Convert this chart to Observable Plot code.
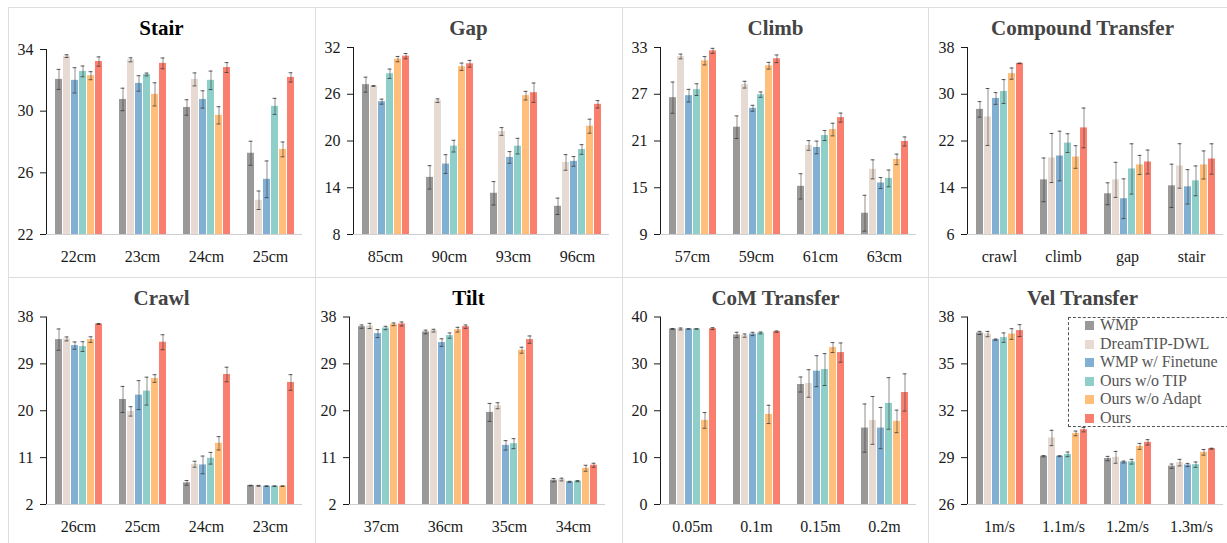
<!DOCTYPE html>
<html>
<head>
<meta charset="utf-8">
<script src="https://cdn.jsdelivr.net/npm/d3@7"></script>
<script src="https://cdn.jsdelivr.net/npm/@observablehq/plot@0.6"></script>
<style>
html, body { margin: 0; padding: 0; background: #fff; overflow: hidden; width: 1227px; height: 543px; }
#wrap { position: relative; width: 1227px; height: 543px; overflow: hidden; }
.cell { position: absolute; width: 307px; height: 270px; }
.cell svg { position: absolute; left: 0; top: 0; }
.title { position: absolute; left: 0; top: 0; width: 307px; height: 42px; text-align: center;
  font: bold 21px "Liberation Serif", "Times New Roman", serif; line-height: 42px; color: #444; white-space: nowrap; }
.vline { position: absolute; width: 1px; background: #dedede; }
.hline { position: absolute; height: 1px; background: #dedede; }
.legend { position: absolute; box-sizing: border-box; border: 1px dashed #555; background: transparent; }
.legend .row { position: absolute; left: 0; height: 18.5px; white-space: nowrap;
  font: 16px "Liberation Serif", "Times New Roman", serif; line-height: 18.5px; color: #555; }
.legend .sw { position: absolute; top: 5px; width: 9px; height: 9px; }
.legend .lab { position: absolute; left: 31px; top: 0; }
</style>
</head>
<body>
<div id="wrap"></div>
<script>
const methods = ["WMP", "DreamTIP-DWL", "WMP w/ Finetune", "Ours w/o TIP", "Ours w/o Adapt", "Ours"];
const colors = ["#999999", "#e7dad2", "#82b0d2", "#8ecfc9", "#ffbe7a", "#fa7f6f"];

// Stair
const stairConditions = ["22cm", "23cm", "24cm", "25cm"];
const stairTicks = [22, 26, 30, 34];
const stairMeans = [
  [32.06, 33.57, 32.0, 32.58, 32.3, 33.22],
  [30.76, 33.33, 31.8, 32.38, 31.09, 33.1],
  [30.24, 32.06, 30.76, 32.0, 29.73, 32.83],
  [27.27, 24.22, 25.58, 30.31, 27.52, 32.19]
];
const stairErrors = [
  [0.65, 0.09, 0.82, 0.35, 0.26, 0.3],
  [0.73, 0.13, 0.5, 0.09, 0.75, 0.35],
  [0.5, 0.42, 0.56, 0.6, 0.56, 0.32],
  [0.78, 0.6, 1.19, 0.52, 0.48, 0.3]
];

// Gap
const gapConditions = ["85cm", "90cm", "93cm", "96cm"];
const gapTicks = [8, 14, 20, 26, 32];
const gapMeans = [
  [27.23, 27.06, 25.05, 28.63, 30.51, 30.89],
  [15.33, 25.18, 17.04, 19.34, 29.53, 29.91],
  [13.29, 21.22, 17.89, 19.34, 25.82, 26.2],
  [11.62, 17.25, 17.38, 18.91, 21.9, 24.71]
];
const gapErrors = [
  [0.96, 0.05, 0.32, 0.6, 0.34, 0.34],
  [1.5, 0.23, 1.2, 0.75, 0.47, 0.43],
  [1.5, 0.5, 0.75, 1.0, 0.55, 1.24],
  [1.05, 1.0, 0.62, 0.62, 0.9, 0.47]
];

// Climb
const climbConditions = ["57cm", "59cm", "61cm", "63cm"];
const climbTicks = [9, 15, 21, 27, 33];
const climbMeans = [
  [26.56, 31.85, 26.82, 27.59, 31.3, 32.57],
  [22.77, 28.23, 25.2, 26.95, 30.66, 31.55],
  [15.18, 20.43, 20.17, 21.7, 22.47, 24.0],
  [11.73, 17.36, 15.61, 16.2, 18.64, 20.94]
];
const climbErrors = [
  [2.0, 0.3, 0.81, 0.75, 0.53, 0.32],
  [1.45, 0.43, 0.38, 0.34, 0.43, 0.49],
  [1.62, 0.62, 0.81, 0.64, 0.81, 0.58],
  [2.3, 1.22, 0.7, 1.07, 0.68, 0.58]
];

// Compound Transfer
const compoundConditions = ["crawl", "climb", "gap", "stair"];
const compoundTicks = [6, 14, 22, 30, 38];
const compoundMeans = [
  [27.41, 26.11, 29.28, 30.47, 33.53, 35.28],
  [15.35, 19.09, 19.43, 21.64, 19.26, 24.24],
  [12.97, 15.35, 12.12, 17.22, 17.9, 18.41],
  [14.33, 17.73, 14.16, 15.18, 17.9, 18.92]
];
const compoundErrors = [
  [1.33, 4.87, 1.0, 2.04, 0.96, 0.05],
  [3.74, 4.2, 4.25, 1.6, 1.93, 3.4],
  [1.87, 3.0, 3.4, 4.3, 1.64, 2.04],
  [3.7, 3.8, 2.94, 2.55, 2.4, 2.6]
];

// Crawl
const crawlConditions = ["26cm", "25cm", "24cm", "23cm"];
const crawlTicks = [2, 11, 20, 29, 38];
const crawlMeans = [
  [33.66, 33.79, 32.51, 32.32, 33.66, 36.66],
  [22.17, 19.88, 23.0, 23.77, 26.19, 33.15],
  [6.16, 9.73, 9.6, 10.88, 13.75, 26.96],
  [5.64, 5.58, 5.52, 5.52, 5.52, 25.43]
];
const crawlErrors = [
  [2.04, 0.38, 0.7, 0.93, 0.54, 0.1],
  [2.5, 0.9, 2.78, 2.68, 0.73, 1.44],
  [0.45, 0.57, 1.7, 1.12, 1.28, 1.4],
  [0.05, 0.08, 0.05, 0.05, 0.05, 1.5]
];

// Tilt
const tiltConditions = ["37cm", "36cm", "35cm", "34cm"];
const tiltTicks = [2, 11, 20, 29, 38];
const tiltMeans = [
  [36.15, 36.28, 34.81, 35.89, 36.6, 36.66],
  [35.13, 35.38, 33.09, 34.43, 35.57, 36.15],
  [19.68, 20.96, 13.36, 13.68, 31.62, 33.66],
  [6.67, 6.79, 6.35, 6.48, 8.96, 9.54]
];
const tiltErrors = [
  [0.32, 0.5, 0.77, 0.32, 0.26, 0.38],
  [0.35, 0.26, 0.73, 0.51, 0.45, 0.32],
  [1.72, 0.57, 0.9, 0.96, 0.57, 0.7],
  [0.32, 0.26, 0.1, 0.1, 0.57, 0.38]
];

// CoM Transfer
const comConditions = ["0.05m", "0.1m", "0.15m", "0.2m"];
const comTicks = [0, 10, 20, 30, 40];
const comMeans = [
  [37.45, 37.45, 37.45, 37.45, 17.94, 37.52],
  [36.17, 36.03, 36.38, 36.6, 19.22, 36.88],
  [25.6, 25.82, 28.44, 28.79, 33.48, 32.41],
  [16.31, 17.94, 16.31, 21.56, 17.73, 23.9]
];
const comErrors = [
  [0.1, 0.2, 0.05, 0.05, 1.67, 0.2],
  [0.57, 0.35, 0.35, 0.2, 1.95, 0.14],
  [1.6, 2.94, 3.3, 3.4, 1.06, 2.05],
  [5.14, 5.1, 4.4, 5.5, 2.4, 3.97]
];

// Vel Transfer
const velConditions = ["1m/s", "1.1m/s", "1.2m/s", "1.3m/s"];
const velTicks = [26, 29, 32, 35, 38];
const velMeans = [
  [36.98, 36.91, 36.55, 36.68, 36.91, 37.13],
  [29.09, 30.26, 29.09, 29.21, 30.55, 30.79],
  [28.94, 29.02, 28.72, 28.74, 29.72, 29.98],
  [28.45, 28.68, 28.53, 28.55, 29.34, 29.57]
];
const velErrors = [
  [0.1, 0.17, 0.04, 0.3, 0.34, 0.38],
  [0.04, 0.49, 0.03, 0.15, 0.15, 0.14],
  [0.14, 0.38, 0.06, 0.15, 0.19, 0.17],
  [0.14, 0.21, 0.1, 0.17, 0.18, 0.03]
];

const panels = [
  {title: "Stair", conditions: stairConditions, ticks: stairTicks, means: stairMeans, errors: stairErrors, titleColor: "#000", ml: 37, mr: 12, mt: 42},
  {title: "Gap", conditions: gapConditions, ticks: gapTicks, means: gapMeans, errors: gapErrors, titleColor: "#444", ml: 37, mr: 12, mt: 40},
  {title: "Climb", conditions: climbConditions, ticks: climbTicks, means: climbMeans, errors: climbErrors, titleColor: "#444", ml: 37, mr: 12, mt: 40},
  {title: "Compound Transfer", conditions: compoundConditions, ticks: compoundTicks, means: compoundMeans, errors: compoundErrors, titleColor: "#444", ml: 37, mr: 13, mt: 40},
  {title: "Crawl", conditions: crawlConditions, ticks: crawlTicks, means: crawlMeans, errors: crawlErrors, titleColor: "#444", ml: 37, mr: 12, mt: 39.5},
  {title: "Tilt", conditions: tiltConditions, ticks: tiltTicks, means: tiltMeans, errors: tiltErrors, titleColor: "#000", ml: 34, mr: 17, mt: 39.5},
  {title: "CoM Transfer", conditions: comConditions, ticks: comTicks, means: comMeans, errors: comErrors, titleColor: "#444", ml: 37, mr: 13, mt: 39.5},
  {title: "Vel Transfer", conditions: velConditions, ticks: velTicks, means: velMeans, errors: velErrors, titleColor: "#444", ml: 37, mr: 12, mt: 39.5, legend: true}
];

const wrap = document.getElementById("wrap");

panels.forEach((p, k) => {
  const col = k % 4, row = Math.floor(k / 4);
  const cell = document.createElement("div");
  cell.className = "cell";
  cell.style.left = (8 + col * 307) + "px";
  cell.style.top = (7 + row * 270) + "px";
  wrap.appendChild(cell);

  const rows = [];
  p.conditions.forEach((c, i) => {
    methods.forEach((m, j) => {
      const v = p.means[i][j], e = p.errors[i][j];
      rows.push({cond: c, method: m, value: v, lo: v - e, hi: v + e});
    });
  });
  const base = p.ticks[0];
  const top = p.ticks[p.ticks.length - 1];

  const chart = Plot.plot({
    width: 307,
    height: 270,
    marginLeft: p.ml,
    marginRight: p.mr,
    marginTop: p.mt,
    marginBottom: 43,
    style: {fontFamily: '"Liberation Serif", "Times New Roman", serif', fontSize: "16px", color: "#1a1a1a", background: "transparent", overflow: "visible"},
    fx: {domain: p.conditions, padding: 0, axis: "bottom", label: null, tickSize: 0, tickPadding: 16},
    x: {domain: methods, axis: null, paddingInner: 0.15, paddingOuter: 0.97},
    y: {domain: [base, top], ticks: p.ticks, tickSize: 6, tickPadding: 7, label: null, line: true},
    color: {domain: methods, range: colors},
    marks: [
      Plot.barY(rows, {fx: "cond", x: "method", y1: base, y2: "value", fill: "method"}),
      Plot.ruleY([base], {stroke: "#cfcfcf"}),
      Plot.ruleX(rows, {fx: "cond", x: "method", y1: "lo", y2: "hi", stroke: "#333", strokeOpacity: 0.55}),
      Plot.tickY(rows, {fx: "cond", x: "method", y: "lo", stroke: "#333", strokeOpacity: 0.8, insetLeft: 1.6, insetRight: 1.6}),
      Plot.tickY(rows, {fx: "cond", x: "method", y: "hi", stroke: "#333", strokeOpacity: 0.8, insetLeft: 1.6, insetRight: 1.6})
    ]
  });
  cell.appendChild(chart);

  const t = document.createElement("div");
  t.className = "title";
  t.textContent = p.title;
  t.style.color = p.titleColor;
  cell.appendChild(t);

  if (p.legend) {
    const lg = document.createElement("div");
    lg.className = "legend";
    lg.style.left = "139px";
    lg.style.top = "39.5px";
    lg.style.width = "166px";
    lg.style.height = "110px";
    methods.forEach((m, j) => {
      const r = document.createElement("div");
      r.className = "row";
      r.style.top = (-1.5 + j * 18.5) + "px";
      const sw = document.createElement("div");
      sw.className = "sw";
      sw.style.left = "16px";
      sw.style.background = colors[j];
      const lab = document.createElement("div");
      lab.className = "lab";
      lab.textContent = m;
      r.appendChild(sw);
      r.appendChild(lab);
      lg.appendChild(r);
    });
    cell.appendChild(lg);
  }
});

// panel divider lines
[8, 315, 622, 928].forEach(x => {
  const d = document.createElement("div");
  d.className = "vline";
  d.style.left = x + "px";
  d.style.top = "7px";
  d.style.height = "540px";
  wrap.appendChild(d);
});
[7, 277].forEach(y => {
  const d = document.createElement("div");
  d.className = "hline";
  d.style.top = y + "px";
  d.style.left = "8px";
  d.style.width = "1230px";
  wrap.appendChild(d);
});
</script>
</body>
</html>
